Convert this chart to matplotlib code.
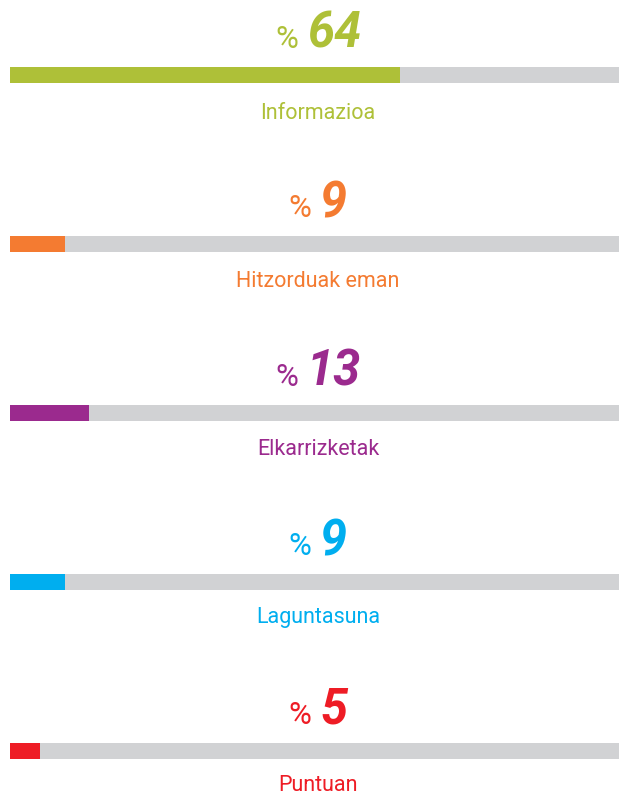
import matplotlib
matplotlib.use('Agg')
import matplotlib.pyplot as plt

plt.rcParams['font.family'] = ['Roboto', 'DejaVu Sans']

categories = ['Informazioa', 'Hitzorduak eman', 'Elkarrizketak', 'Laguntasuna', 'Puntuan']
values = [64, 9, 13, 9, 5]
colors = ['#aec038', '#f47b31', '#9b2a8e', '#00aeef', '#ee1c25']

W, H = 619, 798
fig = plt.figure(figsize=(W / 100, H / 100), dpi=100)
ax = fig.add_axes([0, 0, 1, 1])
ax.set_xlim(0, W)
ax.set_ylim(H, 0)
ax.axis('off')

x0, x1 = 10, 619      # track extent in pixels
step = 169            # vertical spacing between rows
cx = 318              # centre of the text column

renderer = fig.canvas.get_renderer()

for i, (cat, val, col) in enumerate(zip(categories, values, colors)):
    top = 67 + i * step
    # grey track, then the coloured share on top
    ax.barh(top + 8, x1 - x0, height=16, left=x0, color='#d1d2d4', linewidth=0)
    ax.barh(top + 8, (x1 - x0) * val / 100, height=16, left=x0, color=col, linewidth=0)

    base = 48 + i * step
    pct = ax.text(0, base, '%', fontsize=22.5, color=col, ha='left', va='baseline')
    num = ax.text(0, base, str(val), fontsize=35, color=col, fontweight='bold',
                  fontstyle='italic', ha='left', va='baseline')
    wp = pct.get_window_extent(renderer).width
    wn = num.get_window_extent(renderer).width
    gap = 9
    left = cx - (wp + gap + wn) / 2
    pct.set_x(left)
    num.set_x(left + wp + gap)

    ax.text(cx, 119 + i * step - i, cat, fontsize=15.5, color=col,
            ha='center', va='baseline')

fig.savefig('out.png', dpi=100)
